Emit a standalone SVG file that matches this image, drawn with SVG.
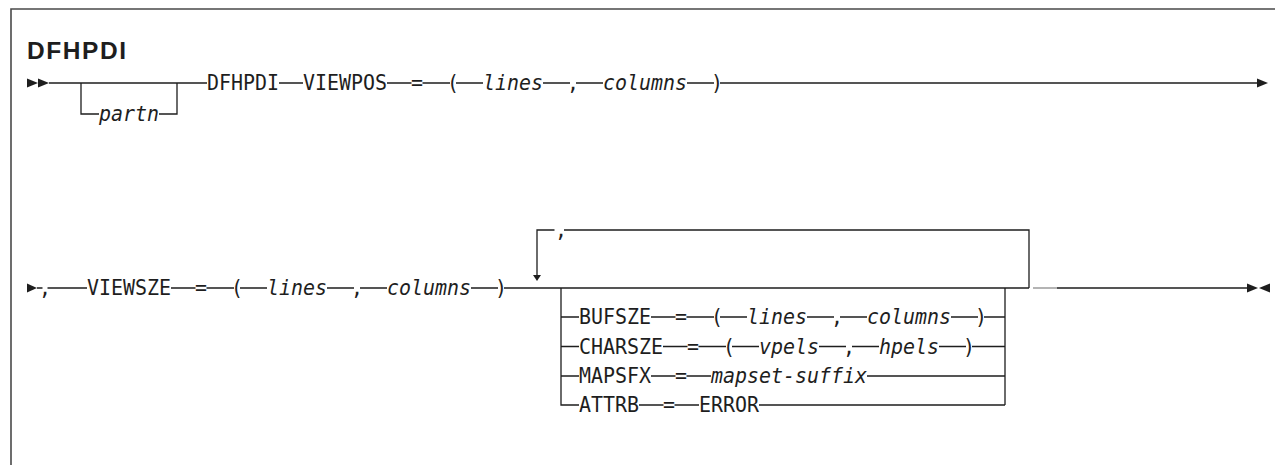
<svg xmlns="http://www.w3.org/2000/svg" width="1275" height="465" viewBox="0 0 1275 465">
<style>
.frame{fill:none;stroke:#4a4a4a;stroke-width:1.6}
.ln{fill:none;stroke:#1e1e1e;stroke-width:1.3}
.gr{fill:none;stroke:#8c8c8c;stroke-width:1.3}
.ar{fill:#1e1e1e}
.ttl{font-family:"Liberation Sans",Arial,sans-serif;font-weight:bold;font-size:24.5px;fill:#1e1e1e}
.kw{font-family:"DejaVu Sans Mono","Liberation Mono",monospace;font-size:22px;fill:#1e1e1e}
.v{font-style:italic}
</style>
<rect width="1275" height="465" fill="#fff"/>
<path class="frame" d="M11 465 V9 H1275"/>
<g id="title"><text class="ttl" x="27" y="59" textLength="99">DFHPDI</text></g>

<g id="connectors">
  <polygon class="ar" points="27,78.5 38,83 27,87.5"/>
  <polygon class="ar" points="38,78.5 49,83 38,87.5"/>
  <path class="ln" d="M49 83 H207 M81 83 V114 H99 M159 114 H177 V83 M279 83 H303 M387 83 H411.5 M422.5 83 H450 M456 83 H483 M543 83 H570 M576 83 H603 M687 83 H714 M720 83 H1257"/>
  <polygon class="ar" points="1257,78.5 1268,83 1257,87.5"/>

  <polygon class="ar" points="27,283.5 37,288 27,292.5"/>
  <path class="ln" d="M37 288 H42.5 M47.5 288 H87 M171 288 H195.5 M206.5 288 H234 M240 288 H267 M327 288 H354 M360 288 H387 M471 288 H498 M504 288 H1029 M1057 288 H1247"/>
  <path class="gr" d="M1033 288 H1057"/>
  <polygon class="ar" points="1247,283.5 1258,288 1247,292.5"/>
  <polygon class="ar" points="1270,283.5 1259,288 1270,292.5"/>

  <path class="ln" d="M537 275 V230 H554.5 M564 230 H1029 V288"/>
  <polygon class="ar" points="533,275 541,275 537,281"/>

  <path class="ln" d="M561 288 V405 H579 M561 317 H579 M561 346.5 H579 M561 376 H579 M1005 288 V405 M984 317 H1005 M972 346.5 H1005 M867 376 H1005 M759 405 H1005"/>
  <path class="ln" d="M651 317 H675.5 M686.5 317 H714 M720 317 H747 M807 317 H834 M840 317 H867 M951 317 H978"/>
  <path class="ln" d="M663 346.5 H687.5 M698.5 346.5 H726 M732 346.5 H759 M819 346.5 H846 M852 346.5 H879 M939 346.5 H966"/>
  <path class="ln" d="M651 376 H675.5 M686.5 376 H711"/>
  <path class="ln" d="M639 405 H663.5 M674.5 405 H699"/>
</g>

<g id="n-partn"><text class="kw v" x="99" y="121" textLength="60" lengthAdjust="spacingAndGlyphs">partn</text></g>
<g id="n-dfhpdi"><text class="kw" x="207" y="90" textLength="72" lengthAdjust="spacingAndGlyphs">DFHPDI</text></g>
<g id="n-viewpos"><text class="kw" x="303" y="90" textLength="84" lengthAdjust="spacingAndGlyphs">VIEWPOS</text></g>
<g id="n-eq1"><text class="kw" x="411" y="90" textLength="12" lengthAdjust="spacingAndGlyphs">=</text></g>
<g id="n-lp1"><text class="kw" x="447" y="90" textLength="12" lengthAdjust="spacingAndGlyphs">(</text></g>
<g id="n-lines1"><text class="kw v" x="483" y="90" textLength="60" lengthAdjust="spacingAndGlyphs">lines</text></g>
<g id="n-cm1"><text class="kw" x="567" y="90" textLength="12" lengthAdjust="spacingAndGlyphs">,</text></g>
<g id="n-cols1"><text class="kw v" x="603" y="90" textLength="84" lengthAdjust="spacingAndGlyphs">columns</text></g>
<g id="n-rp1"><text class="kw" x="711" y="90" textLength="12" lengthAdjust="spacingAndGlyphs">)</text></g>

<g id="n-cm2a"><text class="kw" x="39" y="295" textLength="12" lengthAdjust="spacingAndGlyphs">,</text></g>
<g id="n-viewsze"><text class="kw" x="87" y="295" textLength="84" lengthAdjust="spacingAndGlyphs">VIEWSZE</text></g>
<g id="n-eq2"><text class="kw" x="195" y="295" textLength="12" lengthAdjust="spacingAndGlyphs">=</text></g>
<g id="n-lp2"><text class="kw" x="231" y="295" textLength="12" lengthAdjust="spacingAndGlyphs">(</text></g>
<g id="n-lines2"><text class="kw v" x="267" y="295" textLength="60" lengthAdjust="spacingAndGlyphs">lines</text></g>
<g id="n-cm2"><text class="kw" x="351" y="295" textLength="12" lengthAdjust="spacingAndGlyphs">,</text></g>
<g id="n-cols2"><text class="kw v" x="387" y="295" textLength="84" lengthAdjust="spacingAndGlyphs">columns</text></g>
<g id="n-rp2"><text class="kw" x="495" y="295" textLength="12" lengthAdjust="spacingAndGlyphs">)</text></g>
<g id="n-repsep"><text class="kw" x="555" y="237" textLength="12" lengthAdjust="spacingAndGlyphs">,</text></g>

<g id="n-bufsze">
  <text class="kw" x="579" y="324" textLength="72" lengthAdjust="spacingAndGlyphs">BUFSZE</text>
  <text class="kw" x="675" y="324" textLength="12" lengthAdjust="spacingAndGlyphs">=</text>
  <text class="kw" x="711" y="324" textLength="12" lengthAdjust="spacingAndGlyphs">(</text>
  <text class="kw v" x="747" y="324" textLength="60" lengthAdjust="spacingAndGlyphs">lines</text>
  <text class="kw" x="831" y="324" textLength="12" lengthAdjust="spacingAndGlyphs">,</text>
  <text class="kw v" x="867" y="324" textLength="84" lengthAdjust="spacingAndGlyphs">columns</text>
  <text class="kw" x="975" y="324" textLength="12" lengthAdjust="spacingAndGlyphs">)</text>
</g>
<g id="n-charsze">
  <text class="kw" x="579" y="353.5" textLength="84" lengthAdjust="spacingAndGlyphs">CHARSZE</text>
  <text class="kw" x="687" y="353.5" textLength="12" lengthAdjust="spacingAndGlyphs">=</text>
  <text class="kw" x="723" y="353.5" textLength="12" lengthAdjust="spacingAndGlyphs">(</text>
  <text class="kw v" x="759" y="353.5" textLength="60" lengthAdjust="spacingAndGlyphs">vpels</text>
  <text class="kw" x="843" y="353.5" textLength="12" lengthAdjust="spacingAndGlyphs">,</text>
  <text class="kw v" x="879" y="353.5" textLength="60" lengthAdjust="spacingAndGlyphs">hpels</text>
  <text class="kw" x="963" y="353.5" textLength="12" lengthAdjust="spacingAndGlyphs">)</text>
</g>
<g id="n-mapsfx">
  <text class="kw" x="579" y="383" textLength="72" lengthAdjust="spacingAndGlyphs">MAPSFX</text>
  <text class="kw" x="675" y="383" textLength="12" lengthAdjust="spacingAndGlyphs">=</text>
  <text class="kw v" x="711" y="383" textLength="156" lengthAdjust="spacingAndGlyphs">mapset-suffix</text>
</g>
<g id="n-attrb">
  <text class="kw" x="579" y="412" textLength="60" lengthAdjust="spacingAndGlyphs">ATTRB</text>
  <text class="kw" x="663" y="412" textLength="12" lengthAdjust="spacingAndGlyphs">=</text>
  <text class="kw" x="699" y="412" textLength="60" lengthAdjust="spacingAndGlyphs">ERROR</text>
</g>
</svg>
